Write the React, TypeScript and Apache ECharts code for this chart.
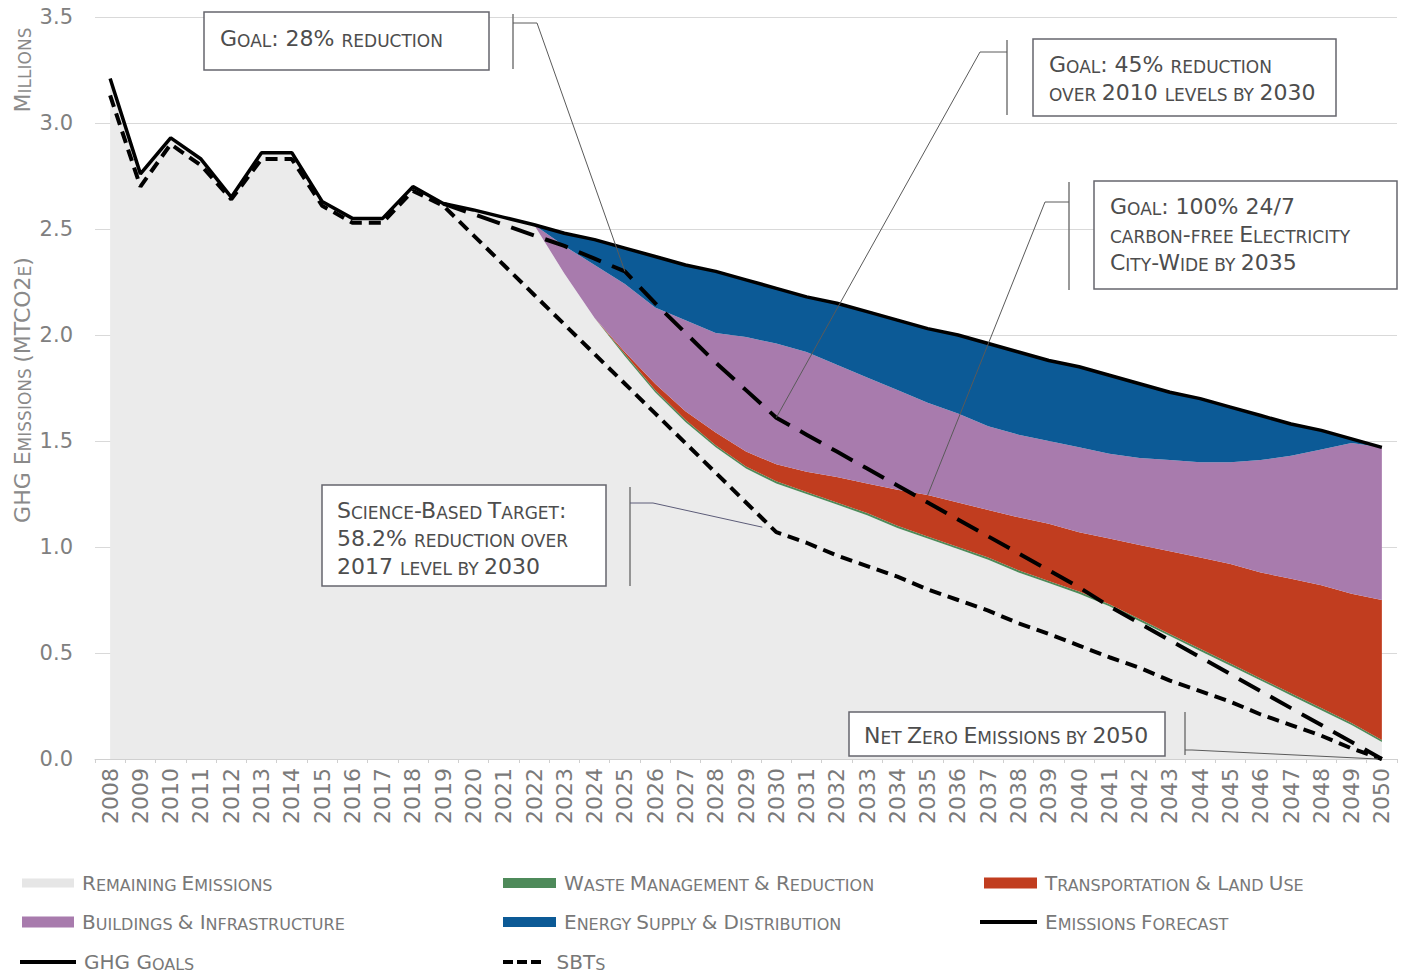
import React, { useEffect, useRef } from 'react';
import * as echarts from 'echarts';

const years = ['2008','2009','2010','2011','2012','2013','2014','2015','2016','2017','2018','2019','2020','2021','2022','2023','2024','2025','2026','2027','2028','2029','2030','2031','2032','2033','2034','2035','2036','2037','2038','2039','2040','2041','2042','2043','2044','2045','2046','2047','2048','2049','2050'];

const remaining = [3.21,2.76,2.93,2.83,2.65,2.86,2.86,2.63,2.55,2.55,2.70,2.62,2.59,2.555,2.52,2.29,2.08,1.90,1.73,1.59,1.47,1.37,1.30,1.25,1.20,1.15,1.09,1.04,0.99,0.94,0.88,0.83,0.78,0.72,0.65,0.58,0.51,0.44,0.37,0.30,0.23,0.16,0.08];
const waste = [0,0,0,0,0,0,0,0,0,0,0,0,0,0,0,0,0,0.01,0.01,0.01,0.01,0.01,0.01,0.01,0.01,0.01,0.01,0.01,0.01,0.01,0.01,0.01,0.01,0.01,0.01,0.01,0.01,0.01,0.01,0.01,0.01,0.01,0.01];
const transport = [0,0,0,0,0,0,0,0,0,0,0,0,0,0,0,0,0,0.01,0.03,0.04,0.06,0.07,0.08,0.095,0.12,0.14,0.17,0.195,0.21,0.225,0.25,0.27,0.28,0.31,0.35,0.39,0.43,0.47,0.50,0.54,0.58,0.61,0.66];
const buildings = [0,0,0,0,0,0,0,0,0,0,0,0,0,0,0,0.13,0.25,0.32,0.36,0.43,0.47,0.54,0.57,0.565,0.53,0.50,0.47,0.435,0.42,0.395,0.39,0.39,0.40,0.40,0.41,0.43,0.45,0.48,0.53,0.58,0.64,0.71,0.72];
const energy = [0,0,0,0,0,0,0,0,0,0,0,0,0,0,0,0.06,0.12,0.17,0.24,0.26,0.29,0.27,0.26,0.26,0.29,0.31,0.33,0.35,0.37,0.39,0.39,0.38,0.38,0.37,0.35,0.32,0.30,0.26,0.21,0.15,0.09,0.02,0];
const forecast = [3.21,2.76,2.93,2.83,2.65,2.86,2.86,2.63,2.55,2.55,2.70,2.62,2.59,2.555,2.52,2.48,2.45,2.41,2.37,2.33,2.30,2.26,2.22,2.18,2.15,2.11,2.07,2.03,2.00,1.96,1.92,1.88,1.85,1.81,1.77,1.73,1.70,1.66,1.62,1.58,1.55,1.51,1.47];
const ghgGoals = [null,null,null,null,null,null,null,null,null,null,null,2.62,2.57,2.52,2.47,2.42,2.36,2.30,2.15,2.01,1.87,1.74,1.61,1.53,1.45,1.37,1.29,1.21,1.13,1.05,0.97,0.89,0.81,0.72,0.64,0.56,0.48,0.40,0.32,0.24,0.16,0.08,0.00];
const sbt = [3.13,2.70,2.90,2.80,2.64,2.83,2.83,2.61,2.53,2.53,2.68,2.61,2.47,2.33,2.19,2.05,1.91,1.77,1.63,1.49,1.35,1.21,1.07,1.02,0.96,0.91,0.86,0.80,0.75,0.70,0.64,0.59,0.535,0.48,0.43,0.37,0.32,0.27,0.21,0.16,0.11,0.05,0.00];

const yTicks = [0, 0.5, 1.0, 1.5, 2.0, 2.5, 3.0, 3.5];

const FONT = '"DejaVu Sans", "Noto Sans", sans-serif';

function sc(text: string, big: string, small: string): string {
  let out = '';
  let cur = '';
  let curStyle = '';
  for (const ch of text) {
    const isLower = ch >= 'a' && ch <= 'z';
    let style = isLower ? small : big;
    if (ch === ' ' && curStyle) style = curStyle;
    const c = isLower ? ch.toUpperCase() : ch;
    if (style !== curStyle && cur) {
      out += `{${curStyle}|${cur}}`;
      cur = '';
    }
    curStyle = style;
    cur += c;
  }
  if (cur) out += `{${curStyle}|${cur}}`;
  return out;
}

function richPair(bigSize: number, smallSize: number, color: string) {
  return {
    b: { fontSize: bigSize, lineHeight: bigSize, fontFamily: FONT, color, fill: color, verticalAlign: 'bottom' },
    s: { fontSize: smallSize, lineHeight: bigSize, fontFamily: FONT, color, fill: color, verticalAlign: 'bottom' },
  } as any;
}

const DASH_ICON = 'path://M0,0H10V4H0Z M14,0H24V4H14Z M28,0H38V4H28Z';

export default function App() {
  const ref = useRef<HTMLDivElement>(null);
  useEffect(() => {
    if (!ref.current) return;
    const chart = echarts.init(ref.current, null, { renderer: 'svg' });

    const areaSeries = (name: string, data: number[], color: string) => ({
      name,
      type: 'line',
      stack: 'total',
      data,
      symbol: 'none',
      color,
      lineStyle: { width: 0, color },
      itemStyle: { color },
      areaStyle: { color, opacity: 1 },
      z: 2,
    });

    const legendRich = richPair(20, 16, '#787878');
    const leg = (iconX: number, centerY: number, name: string, icon: string, iw: number, ih: number, color?: string) => ({
      orient: 'horizontal',
      left: iconX - 5,
      top: centerY - 15,
      padding: 5,
      itemWidth: iw,
      itemHeight: ih,
      selectedMode: false,
      textStyle: { rich: legendRich, color: '#787878', fontFamily: FONT, padding: [0, 0, 0, 3] },
      formatter: (n: string) => sc(n, 'b', 's'),
      data: [color ? { name, icon, itemStyle: { color } } : { name, icon }],
    });

    const option: any = {
      animation: false,
      backgroundColor: '#ffffff',
      grid: { left: 95, right: 10, top: 17, bottom: 217, containLabel: false },
      xAxis: {
        type: 'category',
        data: years,
        boundaryGap: true,
        axisLine: { show: true, lineStyle: { color: '#d0d0d0', width: 1 } },
        axisTick: { show: true, length: 4, lineStyle: { color: '#d0d0d0' } },
        axisLabel: { rotate: 90, interval: 0, fontSize: 22, color: '#7a7a7a', fontFamily: FONT, margin: 9 },
        splitLine: { show: false },
      },
      yAxis: {
        type: 'value',
        min: yTicks[0],
        max: yTicks[yTicks.length - 1],
        interval: 0.5,
        axisLine: { show: false },
        axisTick: { show: false },
        axisLabel: { formatter: (v: number) => v.toFixed(1), fontSize: 21, color: '#808080', fontFamily: FONT, margin: 22 },
        splitLine: { show: true, lineStyle: { color: '#d9d9d9', width: 1 } },
      },
      legend: [
        leg(22, 883, 'Remaining Emissions', 'rect', 52, 9, '#e6e6e6'),
        leg(22, 922, 'Buildings & Infrastructure', 'rect', 52, 11),
        leg(20, 962, 'GHG Goals', 'rect', 56, 4, '#000000'),
        leg(503, 883, 'Waste Management & Reduction', 'rect', 53, 10),
        leg(503, 922, 'Energy Supply & Distribution', 'rect', 53, 10),
        leg(503, 962, 'SBTs', DASH_ICON, 53, 4, '#000000'),
        leg(984, 883, 'Transportation & Land Use', 'rect', 53, 11),
        leg(980, 922, 'Emissions Forecast', 'rect', 57, 4, '#000000'),
      ],
      series: [
        areaSeries('Remaining Emissions', remaining, '#ebebeb'),
        areaSeries('Waste Management & Reduction', waste, '#4e8a5a'),
        areaSeries('Transportation & Land Use', transport, '#c13d1f'),
        areaSeries('Buildings & Infrastructure', buildings, '#a87bad'),
        areaSeries('Energy Supply & Distribution', energy, '#0c5a96'),
        {
          name: 'SBTs', type: 'line', data: sbt, symbol: 'none', color: '#000',
          lineStyle: { color: '#000', width: 4, type: [12, 7] }, z: 5,
        },
        {
          name: 'GHG Goals', type: 'line', data: ghgGoals, symbol: 'none', color: '#000', connectNulls: false,
          lineStyle: { color: '#000', width: 4, type: [24, 12] }, z: 6,
        },
        {
          name: 'Emissions Forecast', type: 'line', data: forecast, symbol: 'none', color: '#000',
          lineStyle: { color: '#000', width: 3.5 }, z: 7,
        },
      ],
    };
    chart.setOption(option);

    const px = (i: number, v: number) => chart.convertToPixel({ xAxisIndex: 0, yAxisIndex: 0 }, [i, v]) as number[];
    const pGoal25 = px(17, ghgGoals[17] as number);
    const pGoal30 = px(22, ghgGoals[22] as number);
    const pCfe35 = px(27, remaining[27] + waste[27] + transport[27]);
    const pSbt30 = px(22, sbt[22]);
    const pZero = px(42, 0);

    const boxRich = richPair(22, 17, '#4d4d4d');
    const axisRich = richPair(22, 17, '#8a8a8a');
    const txt = (x: number, y: number, s: string, rich: any = boxRich) => ({
      type: 'text', x, y, z: 102,
      style: { text: sc(s, 'b', 's'), rich, align: 'left', verticalAlign: 'middle', fill: '#4d4d4d', fontFamily: FONT },
    });
    const box = (x: number, y: number, w: number, h: number) => ({
      type: 'rect', z: 101,
      shape: { x, y, width: w, height: h },
      style: { fill: '#ffffff', stroke: '#66666e', lineWidth: 1.5 },
    });
    const ln = (pts: number[][], color = '#5a5a5a', w = 1) => ({
      type: 'polyline', z: 100,
      shape: { points: pts },
      style: { stroke: color, lineWidth: w, fill: null },
    });

    const graphic: any[] = [
      {
        type: 'text', x: 22, y: 390, rotation: Math.PI / 2, z: 102,
        style: { text: sc('GHG Emissions (MTCO2e)', 'b', 's'), rich: axisRich, align: 'center', verticalAlign: 'middle', fill: '#8a8a8a' },
      },
      {
        type: 'text', x: 22, y: 70, rotation: Math.PI / 2, z: 102,
        style: { text: sc('Millions', 'b', 's'), rich: axisRich, align: 'center', verticalAlign: 'middle', fill: '#8a8a8a' },
      },
      ln([[513, 14], [513, 69]], '#777', 1.5),
      ln([[513, 23], [537, 23], [pGoal25[0], pGoal25[1]]]),
      box(204, 12, 285, 58),
      txt(220, 38, 'Goal: 28% reduction'),
      ln([[1007, 40], [1007, 115]], '#777', 1.5),
      ln([[1007, 52], [980, 52], [pGoal30[0], pGoal30[1]]]),
      box(1033, 39, 303, 77),
      txt(1049, 64, 'Goal: 45% reduction'),
      txt(1049, 92, 'over 2010 levels by 2030'),
      ln([[1069, 182], [1069, 290]], '#777', 1.5),
      ln([[1069, 202], [1045, 202], [pCfe35[0], pCfe35[1]]]),
      box(1094, 181, 303, 108),
      txt(1110, 206, 'Goal: 100% 24/7'),
      txt(1110, 234, 'carbon-free Electricity'),
      txt(1110, 262, 'City-Wide by 2035'),
      ln([[630, 487], [630, 586]], '#777', 1.5),
      ln([[630, 503], [653, 503], [pSbt30[0] - 14, pSbt30[1] - 5]], '#5c5c78'),
      box(322, 485, 284, 101),
      txt(337, 510, 'Science-Based Target:'),
      txt(337, 538, '58.2% reduction over'),
      txt(337, 566, '2017 level by 2030'),
      ln([[1185, 712], [1185, 755]], '#777', 1.5),
      ln([[1185, 750], [1192, 750], [pZero[0] - 4, pZero[1]]]),
      box(849, 712, 316, 44),
      txt(864, 735, 'Net Zero Emissions by 2050'),
    ];
    chart.setOption({ graphic });

    return () => chart.dispose();
  }, []);
  return <div ref={ref} style={{ position: 'absolute', left: 0, top: 0, width: 1407, height: 976 }} />;
}
